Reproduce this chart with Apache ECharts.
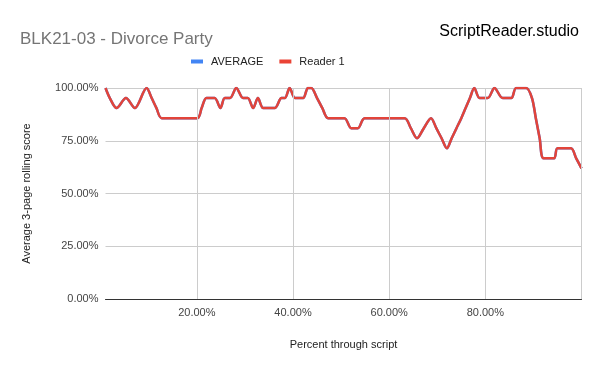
<!DOCTYPE html>
<html><head><meta charset="utf-8">
<script src="https://cdn.jsdelivr.net/npm/echarts@6/dist/echarts.min.js"></script>
<style>html,body{margin:0;padding:0;background:#fff}#c{width:600px;height:371px}</style>
</head><body><div id="c"></div>
<script>
// Percent through script (x) for each read point
const pctThrough = [1.0, 1.9, 3.3, 5.25, 7.1, 9.55, 10.6, 11.6, 12.7, 20.1, 21.0, 22.0, 23.7, 24.9, 25.8, 26.9, 28.2, 29.6, 30.6, 31.7, 32.7, 33.8, 36.2, 37.6, 38.3, 39.3, 40.4, 42.1, 43.1, 43.8, 45.0, 46.1, 47.3, 50.7, 52.1, 53.5, 54.9, 63.2, 64.5, 65.8, 67.2, 68.7, 69.8, 70.9, 72.0, 73.0, 74.0, 75.0, 75.9, 76.8, 77.7, 78.8, 80.5, 81.9, 83.6, 85.4, 86.4, 88.5, 89.7, 90.5, 91.3, 92.1, 94.3, 95.0, 97.8, 98.9, 100.0];
// Average 3-page rolling score (%)
const averageScores = [100, 95.24, 90.48, 95.24, 90.48, 100, 95.24, 90.48, 85.71, 85.71, 90.48, 95.24, 95.24, 90.48, 95.24, 95.24, 100, 95.24, 95.24, 90.48, 95.24, 90.48, 90.48, 95.24, 95.24, 100, 95.24, 95.24, 100, 100, 95.24, 90.48, 85.71, 85.71, 80.95, 80.95, 85.71, 85.71, 80.95, 76.19, 80.95, 85.71, 80.95, 76.19, 71.43, 76.19, 80.95, 85.71, 90.48, 95.24, 100, 95.24, 95.24, 100, 95.24, 95.24, 100, 100, 95.24, 85.71, 76.19, 66.67, 66.67, 71.43, 71.43, 66.67, 61.90];
const reader1Scores = [100, 95.24, 90.48, 95.24, 90.48, 100, 95.24, 90.48, 85.71, 85.71, 90.48, 95.24, 95.24, 90.48, 95.24, 95.24, 100, 95.24, 95.24, 90.48, 95.24, 90.48, 90.48, 95.24, 95.24, 100, 95.24, 95.24, 100, 100, 95.24, 90.48, 85.71, 85.71, 80.95, 80.95, 85.71, 85.71, 80.95, 76.19, 80.95, 85.71, 80.95, 76.19, 71.43, 76.19, 80.95, 85.71, 90.48, 95.24, 100, 95.24, 95.24, 100, 95.24, 95.24, 100, 100, 95.24, 85.71, 76.19, 66.67, 66.67, 71.43, 71.43, 66.67, 61.90];
const seriesNames = ['AVERAGE', 'Reader 1'];
const xGridValues = [20, 40, 60, 80, 100];
const yTicks = [0, 25, 50, 75, 100];

const pairs = ys => pctThrough.map((x, i) => [x, ys[i]]);
const font = 'Arial, "Liberation Sans", sans-serif';

const chart = echarts.init(document.getElementById('c'), null, {renderer: 'canvas'});
chart.setOption({
  animation: false,
  backgroundColor: '#fff',
  title: [
    {text: 'BLK21-03 - Divorce Party', left: 20, top: 31, padding: 0,
     textStyle: {fontFamily: font, fontSize: 17, fontWeight: 'normal', color: '#757575'}},
    {text: 'ScriptReader.studio', right: 21, top: 24, padding: 0,
     textStyle: {fontFamily: font, fontSize: 16, fontWeight: 'normal', color: '#000'}}
  ],
  legend: {
    data: seriesNames, left: 191, top: 56, padding: 0,
    icon: 'rect', itemWidth: 12, itemHeight: 4, itemGap: 16,
    textStyle: {fontFamily: font, fontSize: 11, color: '#222', padding: [0, 0, 0, 3]}
  },
  grid: {left: 105.5, right: 18.5, top: 88, bottom: 72, containLabel: false},
  xAxis: {
    type: 'value', min: pctThrough[0], max: 100,
    name: 'Percent through script', nameLocation: 'middle', nameGap: 40,
    nameTextStyle: {fontFamily: font, fontSize: 11, color: '#222'},
    axisLine: {show: true, lineStyle: {color: '#333', width: 1}},
    axisTick: {show: false},
    splitLine: {show: false},
    axisLabel: {
      fontFamily: font, fontSize: 11, color: '#444', margin: 8,
      showMinLabel: false, showMaxLabel: false,
      formatter: v => (xGridValues.includes(Math.round(v * 100) / 100) && v < 100) ? v.toFixed(2) + '%' : ''
    }
  },
  yAxis: {
    type: 'value', min: yTicks[0], max: yTicks[yTicks.length - 1], interval: 25,
    name: 'Average 3-page rolling score', nameLocation: 'middle', nameGap: 73,
    nameTextStyle: {fontFamily: font, fontSize: 11, color: '#222'},
    axisLine: {show: false}, axisTick: {show: false},
    splitLine: {lineStyle: {color: '#cccccc', width: 1}},
    axisLabel: {fontFamily: font, fontSize: 11, color: '#444', margin: 7,
      formatter: v => v.toFixed(2) + '%'}
  },
  series: [
    {
      name: seriesNames[0], type: 'line', data: pairs(averageScores),
      smooth: 0.3, showSymbol: false, z: 2,
      color: '#4285f4', lineStyle: {color: '#4285f4', width: 2.5},
      markLine: {
        silent: true, symbol: 'none', label: {show: false},
        lineStyle: {color: '#cccccc', width: 1, type: 'solid'},
        data: xGridValues.map(v => ({xAxis: v}))
      }
    },
    {
      name: seriesNames[1], type: 'line', data: pairs(reader1Scores),
      smooth: 0.3, showSymbol: false, z: 3,
      color: '#ea4335', lineStyle: {color: '#e2443a', width: 2.5}
    }
  ]
});
</script></body></html>
